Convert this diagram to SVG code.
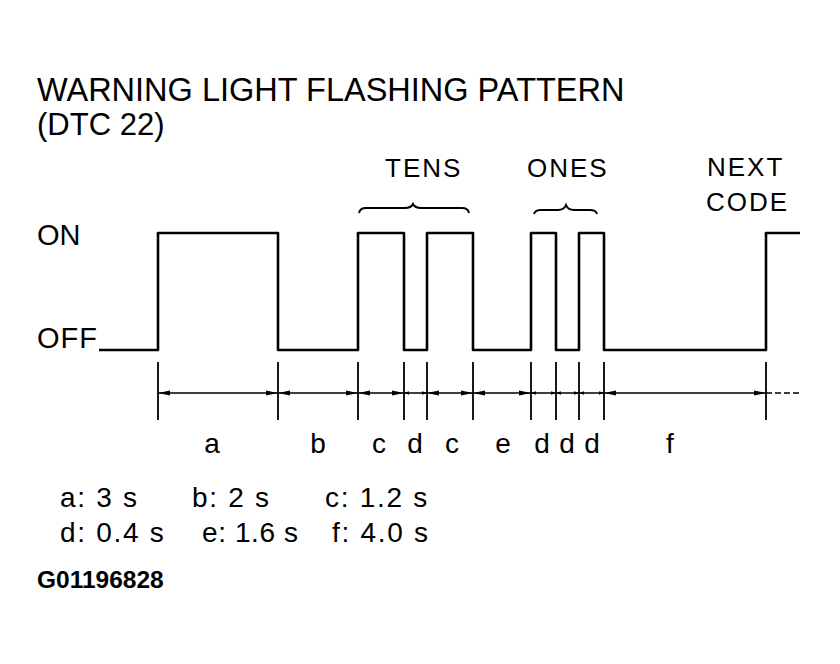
<svg xmlns="http://www.w3.org/2000/svg" width="840" height="664" viewBox="0 0 840 664">
<style>
text{font-family:"Liberation Sans",Arial,sans-serif;fill:#000}
.title{font-size:32.5px}
.lvl{font-size:29px}
.grp{font-size:26px;letter-spacing:2px}
.seg{font-size:28px;text-anchor:middle}
.leg{font-size:28px;letter-spacing:1.7px}
.code{font-size:24.5px;font-weight:bold}
.wave{fill:none;stroke:#000;stroke-width:2.6;stroke-linejoin:round}
.tick{stroke:#000;stroke-width:1.8}
.dim{stroke:#000;stroke-width:1.5;fill:none}
.brace{fill:none;stroke:#000;stroke-width:2}
</style>
<defs>
<marker id="ah" viewBox="0 0 12 6" refX="12" refY="3" markerWidth="12" markerHeight="6" markerUnits="userSpaceOnUse" orient="auto-start-reverse">
<path d="M0,0.5 L12,3 L0,5.5 z" fill="#000"/>
</marker>
<marker id="ahs" viewBox="0 0 6 4" refX="6" refY="2" markerWidth="5" markerHeight="4" markerUnits="userSpaceOnUse" orient="auto-start-reverse">
<path d="M0,0 L6,2 L0,4 z" fill="#000"/>
</marker>
</defs>

<g id="title">
<text class="title" x="37" y="101">WARNING LIGHT FLASHING PATTERN</text>
<text class="title" x="37" y="135" style="font-size:31px">(DTC 22)</text>
</g>

<g id="levels">
<text class="lvl" x="37" y="245">ON</text>
<text class="lvl" x="37" y="348" style="letter-spacing:1px">OFF</text>
</g>

<g id="groups">
<text class="grp" x="385" y="177">TENS</text>
<text class="grp" x="527" y="177">ONES</text>
<text class="grp" x="707" y="176">NEXT</text>
<text class="grp" x="706" y="211">CODE</text>
<path class="brace" d="M359,213 Q360,208 366,208 L405,208 Q411,208 413,204 Q415,208 421,208 L462,208 Q468,208 469,213"/>
<path class="brace" d="M534,214 Q535,210 541,210 L558,210 Q564,210 566,205 Q568,210 574,210 L590,210 Q596,210 597,214"/>
</g>

<g id="waveform">
<path class="wave" d="M99,350 H158 V233 H278 V350 H358 V233 H404 V350 H427 V233 H473 V350 H531 V233 H556 V350 H579 V233 H604 V350 H766 V233 H800"/>
</g>

<g id="connectors">
<g class="tick">
<line x1="158" y1="362" x2="158" y2="420"/>
<line x1="278" y1="362" x2="278" y2="420"/>
<line x1="358" y1="362" x2="358" y2="420"/>
<line x1="404" y1="362" x2="404" y2="420"/>
<line x1="427" y1="362" x2="427" y2="420"/>
<line x1="473" y1="362" x2="473" y2="420"/>
<line x1="531" y1="362" x2="531" y2="420"/>
<line x1="556" y1="362" x2="556" y2="420"/>
<line x1="579" y1="362" x2="579" y2="420"/>
<line x1="604" y1="362" x2="604" y2="420"/>
<line x1="766" y1="362" x2="766" y2="420"/>
</g>
<line class="dim" x1="158" y1="393" x2="278" y2="393" marker-start="url(#ah)" marker-end="url(#ah)"/>
<line class="dim" x1="278" y1="393" x2="358" y2="393" marker-start="url(#ah)" marker-end="url(#ah)"/>
<line class="dim" x1="358" y1="393" x2="404" y2="393" marker-start="url(#ah)" marker-end="url(#ah)"/>
<line class="dim" x1="404" y1="393" x2="427" y2="393" marker-start="url(#ahs)" marker-end="url(#ahs)"/>
<line class="dim" x1="427" y1="393" x2="473" y2="393" marker-start="url(#ah)" marker-end="url(#ah)"/>
<line class="dim" x1="473" y1="393" x2="531" y2="393" marker-start="url(#ah)" marker-end="url(#ah)"/>
<line class="dim" x1="531" y1="393" x2="556" y2="393" marker-start="url(#ahs)" marker-end="url(#ahs)"/>
<line class="dim" x1="556" y1="393" x2="579" y2="393" marker-start="url(#ahs)" marker-end="url(#ahs)"/>
<line class="dim" x1="579" y1="393" x2="604" y2="393" marker-start="url(#ahs)" marker-end="url(#ahs)"/>
<line class="dim" x1="604" y1="393" x2="766" y2="393" marker-start="url(#ah)" marker-end="url(#ah)"/>
<line class="dim" x1="766" y1="393" x2="802" y2="393" stroke-dasharray="6,3"/>
</g>

<g id="segment-labels">
<text class="seg" x="212" y="453">a</text>
<text class="seg" x="318" y="453">b</text>
<text class="seg" x="379" y="453">c</text>
<text class="seg" x="415" y="453">d</text>
<text class="seg" x="452" y="453">c</text>
<text class="seg" x="503" y="453">e</text>
<text class="seg" x="542" y="453">d</text>
<text class="seg" x="567" y="453">d</text>
<text class="seg" x="592" y="453">d</text>
<text class="seg" x="670" y="453">f</text>
</g>

<g id="legend">
<text class="leg" x="60" y="507">a: 3 s</text>
<text class="leg" x="192" y="507">b: 2 s</text>
<text class="leg" x="325" y="507">c: 1.2 s</text>
<text class="leg" x="60" y="542">d: 0.4 s</text>
<text class="leg" x="202" y="542" style="letter-spacing:0.6px">e: 1.6 s</text>
<text class="leg" x="332" y="542">f: 4.0 s</text>
</g>

<g id="figure-id">
<text class="code" x="37" y="588">G01196828</text>
</g>
</svg>
